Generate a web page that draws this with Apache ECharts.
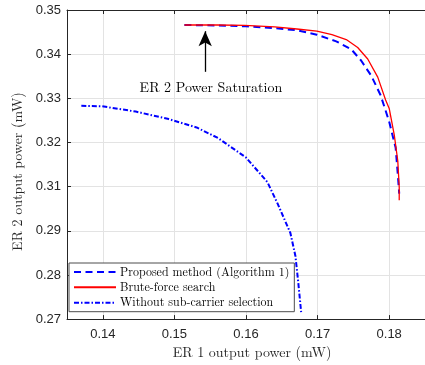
<!DOCTYPE html>
<html>
<head>
<meta charset="utf-8">
<script src="https://cdn.jsdelivr.net/npm/echarts@6/dist/echarts.min.js"></script>
<style>html,body{margin:0;padding:0;background:#fff}#c{width:425px;height:365px}</style>
</head>
<body>
<div id="c"></div>
<script>
// Data
const proposedX = [0.1514, 0.1560, 0.1600, 0.1640, 0.1671, 0.1699, 0.1726, 0.1747, 0.1761, 0.1775, 0.1788, 0.1800, 0.1809, 0.1812, 0.1814];
const proposedY = [0.3466, 0.3465, 0.3463, 0.3459, 0.3454, 0.3444, 0.3429, 0.3411, 0.3385, 0.3351, 0.3307, 0.3247, 0.3188, 0.3128, 0.3084];
const bruteX = [0.1514, 0.1560, 0.1598, 0.1640, 0.1671, 0.1699, 0.1720, 0.1740, 0.1756, 0.1770, 0.1784, 0.1795, 0.1800, 0.1807, 0.1812, 0.1814, 0.1814];
const bruteY = [0.3466, 0.3466, 0.3465, 0.3462, 0.3457, 0.3452, 0.3444, 0.3433, 0.3415, 0.3389, 0.3348, 0.3296, 0.3277, 0.3218, 0.3158, 0.3099, 0.3069];
const withoutX = [0.1370, 0.1399, 0.1446, 0.1492, 0.1531, 0.1561, 0.1600, 0.1630, 0.1644, 0.1655, 0.1662, 0.1669, 0.1673, 0.1677];
const withoutY = [0.3283, 0.3282, 0.3270, 0.3253, 0.3234, 0.3210, 0.3166, 0.3110, 0.3062, 0.3021, 0.2995, 0.2943, 0.2883, 0.2816];
const seriesNames = ['Proposed method (Algorithm 1)', 'Brute-force search', 'Without sub-carrier selection'];
const xTickValues = [0.14, 0.15, 0.16, 0.17, 0.18];
// y tick labels, bottom to top (as printed in the reference)
const yTickLabels = ['0.27', '0.28', '0.29', '0.31', '0.32', '0.33', '0.34', '0.35'];
const annotationText = 'ER 2 Power Saturation';
const arrowX = 0.1543, arrowY0 = 0.3360, arrowY1 = 0.3452;
const annotationPos = [0.1551, 0.3324];

const zip = (xs, ys) => xs.map((x, i) => [x, ys[i]]);
const axisColor = '#262626';
const gridColor = '#e3e3e3';
const serif = '"Latin Modern Roman", "DejaVu Serif", "Liberation Serif", serif';
const sans = '"Liberation Sans", Arial, Helvetica, sans-serif';

const chart = echarts.init(document.getElementById('c'), null, {renderer: 'canvas'});
chart.setOption({
  animation: false,
  backgroundColor: '#fff',
  grid: {left: 67, top: 10, width: 362, height: 314, containLabel: false},
  xAxis: [{
    type: 'value', min: 0.135, max: 0.185, position: 'bottom',
    name: 'ER 1 output power (mW)', nameLocation: 'middle', nameGap: 23,
    nameTextStyle: {fontFamily: serif, fontSize: 14, color: axisColor, padding: [0, 0, 0, 12]},
    axisLine: {show: true, onZero: false, lineStyle: {color: axisColor, width: 1}},
    axisTick: {show: true, inside: true, length: 4, customValues: xTickValues, lineStyle: {color: axisColor}},
    axisLabel: {customValues: xTickValues, margin: 9, fontFamily: sans, fontSize: 13, color: axisColor, formatter: v => v.toFixed(2)},
    splitLine: {show: true, lineStyle: {color: gridColor, width: 1}}
  }, {
    type: 'value', min: 0.135, max: 0.185, position: 'top',
    axisLine: {show: true, onZero: false, lineStyle: {color: axisColor, width: 1}},
    axisTick: {show: true, inside: true, length: 4, customValues: xTickValues, lineStyle: {color: axisColor}},
    axisLabel: {show: false},
    splitLine: {show: false}
  }],
  yAxis: [{
    type: 'value', min: 0.28, max: 0.35, interval: 0.01,
    name: 'ER 2 output power (mW)', nameLocation: 'middle', nameGap: 38, nameRotate: 90,
    nameTextStyle: {fontFamily: serif, fontSize: 14, color: axisColor, padding: [0, 14, 0, 0]},
    axisLine: {show: true, onZero: false, lineStyle: {color: axisColor, width: 1}},
    axisTick: {show: true, inside: true, length: 4, lineStyle: {color: axisColor}},
    axisLabel: {margin: 6, fontFamily: sans, fontSize: 13, color: axisColor,
      formatter: v => yTickLabels[Math.round((v - 0.28) / 0.01)] || ''},
    splitLine: {show: true, lineStyle: {color: gridColor, width: 1}}
  }],
  legend: {
    orient: 'vertical', left: 69, top: 263,
    padding: [3, 5, 3, 4],
    itemWidth: 42, itemHeight: 12, itemGap: 3.35,
    borderColor: '#4d4d4d', borderWidth: 1, backgroundColor: '#fff',
    itemStyle: {opacity: 0, borderWidth: 0},
    textStyle: {fontFamily: serif, fontSize: 12, color: '#000', padding: [0, 0, 0, -1]},
    data: seriesNames
  },
  series: [{
    name: seriesNames[0], type: 'line', data: zip(proposedX, proposedY),
    symbol: 'none', smooth: false, z: 3,
    lineStyle: {color: '#0000ff', width: 2, type: [7, 4.5]},
    itemStyle: {color: '#0000ff'}
  }, {
    name: seriesNames[1], type: 'line', data: zip(bruteX, bruteY),
    symbol: 'none', z: 4,
    lineStyle: {color: '#ff0000', width: 1.3, type: 'solid'},
    itemStyle: {color: '#ff0000'},
    markLine: {
      silent: true, animation: false,
      symbol: ['none', 'arrow'], symbolSize: [10, 15],
      label: {show: false},
      lineStyle: {color: '#000', width: 1.3, type: 'solid'},
      data: [[{coord: [arrowX, arrowY0]}, {coord: [arrowX, arrowY1]}]]
    },
    markPoint: {
      silent: true, symbol: 'rect', symbolSize: 1,
      itemStyle: {color: 'rgba(0,0,0,0)'},
      label: {show: true, position: 'inside', formatter: annotationText, fontFamily: serif, fontSize: 14, color: '#000'},
      data: [{coord: annotationPos}]
    }
  }, {
    name: seriesNames[2], type: 'line', data: zip(withoutX, withoutY),
    symbol: 'none', z: 3,
    lineStyle: {color: '#0000ff', width: 2, type: [5, 2, 1.5, 2]},
    itemStyle: {color: '#0000ff'}
  }]
});
</script>
</body>
</html>
